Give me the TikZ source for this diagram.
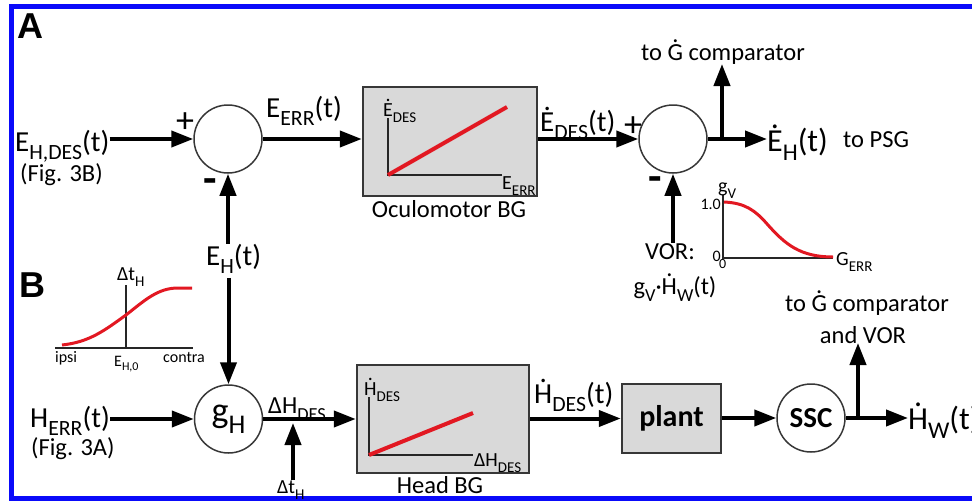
\documentclass[tikz,border=0pt]{standalone}
\usepackage{fontspec}
\setmainfont{Carlito}
\newfontfamily\panelfont{Liberation Sans}
\usepackage{graphicx}
\usetikzlibrary{arrows.meta,calc}
\definecolor{cred}{RGB}{226,24,34}
\definecolor{boxfill}{RGB}{217,217,217}
\definecolor{boxline}{RGB}{55,55,55}
\definecolor{frameblue}{RGB}{10,10,250}
\newcommand\dt[1]{\leavevmode\setbox0=\hbox{#1}\rlap{\hbox to\wd0{\hss\raisebox{\dimexpr\ht0+0.06em\relax}{.}\hss}}\box0\relax}
\newcommand\sbs[1]{\raisebox{-0.3em}{\scalebox{0.75}{#1}}}
\tikzset{
  lblbig/.style={font=\fontsize{29}{32}\selectfont, inner sep=0pt, anchor=base west},
  lblhuge/.style={font=\fontsize{32}{34}\selectfont, inner sep=0pt, anchor=base west},
  lblsmall/.style={font=\fontsize{24.5}{27}\selectfont, inner sep=0pt, anchor=base west},
  lbltiny/.style={font=\fontsize{20}{22}\selectfont, inner sep=0pt, anchor=base west},
  lblmini/.style={font=\fontsize{16}{18}\selectfont, inner sep=0pt, anchor=base west},
  panel/.style={font=\fontsize{36}{40}\selectfont\panelfont\bfseries, inner sep=0pt, anchor=base west},
  signp/.style={font=\fontsize{36}{40}\selectfont, inner sep=0pt},
  signm/.style={font=\fontsize{44}{46}\selectfont\bfseries, inner sep=0pt},
  sumc/.style={circle, draw=boxline, line width=1.5pt, minimum size=68pt, inner sep=0pt},
  blk/.style={draw=boxline, line width=2.5pt, fill=boxfill, inner sep=0pt},
  arr/.style={line width=4pt, -{Triangle[length=22pt,width=16pt]}},
  axisln/.style={line width=2pt, black!85},
  redl/.style={line width=4pt, cred},
  blueframe/.style={draw=frameblue, line width=5pt}
}
\begin{document}
\begin{tikzpicture}[x=1pt,y=-1pt]
\useasboundingbox (0,0) rectangle (972,501);
\clip (0,0) rectangle (972,501);
\draw[blueframe] (990,6.5) -- (11.5,6.5) -- (11.5,498.5) -- (990,498.5);

% panel labels
\node[panel] (pa) at (17,38) {A};
\node[panel] (pb) at (19,297) {B};

% ===== row A =====
\node[sumc] (s1) at (228,139) {};
\node[lblbig] (ehdes) at (15,151) {E\sbs{H,DES}(t)};
\node[lblsmall] (f3b) at (20,181) {(Fig. 3B)};
\node[signp] (p1) at (185,123) {+};
\node[signm] (m1) at (210,186) {-};
\node[lblbig] (eerr) at (266,117) {E\sbs{ERR}(t)};
\node[blk, minimum width=174pt, minimum height=109pt] (obg) at (450,141.5) {};
\draw[axisln] (388,118) -- (388,175) -- (502,175);
\draw[redl] (388,175) -- (507,107);
\node[lbltiny] (obgy) at (383,116) {\dt{E}\sbs{DES}};
\node[lbltiny] (obgx) at (502,189) {E\sbs{ERR}};
\node[lblsmall, anchor=base] (obgl) at (449,217) {Oculomotor BG};
\node[lblbig] (edes) at (540,131) {\dt{E}\sbs{DES}(t)};
\node[signp] (p2) at (633,127) {+};
\node[sumc] (s2) at (673,139) {};
\node[signm] (m2) at (655,184) {-};
\node[lblhuge] (eh) at (767,151) {\dt{E}\sbs{H}(t)};
\node[lblsmall] (psg) at (843,147) {to PSG};
\node[lblsmall] (tog1) at (641,60) {to \dt{G} comparator};
\coordinate (br1) at (722,139);
\coordinate (up1) at (722,64);
\node[lblsmall, anchor=base] (vor) at (670,259) {VOR:};
\node[lblsmall, anchor=base] (vorg) at (675,294) {g\sbs{V}\textperiodcentered\dt{H}\sbs{W}(t)};

\draw[arr] (ehdes.east |- s1.west) -- (s1.west);
\draw[arr] (s1.east) -- (s1.east -| obg.west);
\draw[arr] (obg.east |- s2.west) -- (s2.west);
\draw[arr] (s2.east) -- (s2.east -| eh.west);
\draw[arr] (br1) -- (up1);
\draw[arr] (vor.north -| s2.south) -- (s2.south);

% g_V graph
\draw[axisln] (723,195) -- (723,258) -- (833,258);
\draw[redl, line width=3pt] (724,202) .. controls (745,203) and (755,210) .. (768,225) .. controls (785,244) and (800,257) .. (833,257);
\node[lbltiny] (gv) at (718,192) {g\sbs{V}};
\node[lblmini, anchor=east] (one) at (721,204) {1.0};
\node[lblmini, anchor=east] (z1) at (721,256) {0};
\node[lblmini, font=\fontsize{14}{16}\selectfont] (z2) at (719,268) {0};
\node[lbltiny] (gerr) at (836,265) {G\sbs{ERR}};

% ===== E_H(t) between rows =====
\node[lblbig] (ehb) at (206,265) {E\sbs{H}(t)};

% sigmoid inset
\draw[axisln] (55,348) -- (193,348);
\draw[axisln] (126,285) -- (126,348);
\draw[redl, line width=3pt] (62,345) .. controls (90,342) and (105,330) .. (126,315) .. controls (145,300) and (158,288) .. (178,288) -- (192,288);
\node[lbltiny] (dth1) at (117,280) {Δt\sbs{H}};
\node[lblmini] (ipsi) at (55,362) {ipsi};
\node[lblmini] (eh0) at (114,366) {E\sbs{H,0}};
\node[lblmini] (contra) at (163,362) {contra};

% ===== row B =====
\node[sumc, font=\fontsize{36}{40}\selectfont] (gh) at (228.5,419) {g\sbs{H}};
\node[lblbig] (herr) at (30,427) {H\sbs{ERR}(t)};
\node[lblsmall] (f3a) at (31,455) {(Fig. 3A)};
\node[lblsmall] (dhdes) at (268,413) {ΔH\sbs{DES}};
\node[blk, minimum width=172pt, minimum height=108pt] (hbg) at (443,419) {};
\node[lbltiny] (dth2) at (277,493) {Δt\sbs{H}};
\coordinate (dtt) at (293,423);
\draw[axisln] (369,397) -- (369,455) -- (473,455);
\draw[redl] (369,455) -- (473,413);
\node[lbltiny] (hbgy) at (364,395) {\dt{H}\sbs{DES}};
\node[lbltiny] (hbgx) at (474,466) {ΔH\sbs{DES}};
\node[lblsmall, anchor=base] (hbgl) at (440,493) {Head BG};
\node[lblbig] (hdes) at (534,403) {\dt{H}\sbs{DES}(t)};
\node[blk, minimum width=99pt, minimum height=69pt, font=\fontsize{30}{32}\selectfont\bfseries] (plant) at (671.5,418.5) {plant};
\node[sumc, font=\fontsize{29}{32}\selectfont\bfseries] (ssc) at (811,418) {SSC};
\node[lblhuge] (hw) at (908,429) {\dt{H}\sbs{W}(t)};
\coordinate (br2) at (858,418);
\coordinate (up2) at (858,343);
\node[lblsmall, anchor=base] (tog2) at (867,311) {to \dt{G} comparator};
\node[lblsmall, anchor=base] (andvor) at (863,343) {and VOR};

\draw[arr] (ehb.north -| s1.south) -- (s1.south);
\draw[arr, shorten <=4pt] (ehb.south -| gh.north) -- (gh.north);
\draw[arr] (herr.east |- gh.west) -- (gh.west);
\draw[arr] (gh.east) -- (gh.east -| hbg.west);
\draw[arr] (dth2.north -| dtt) -- (dtt);
\draw[arr] (hbg.east |- plant.west) -- (plant.west);
\draw[arr] (plant.east |- ssc.west) -- (ssc.west);
\draw[arr] (ssc.east) -- (ssc.east -| hw.west);
\draw[arr] (br2) -- (up2);
\end{tikzpicture}
\end{document}
